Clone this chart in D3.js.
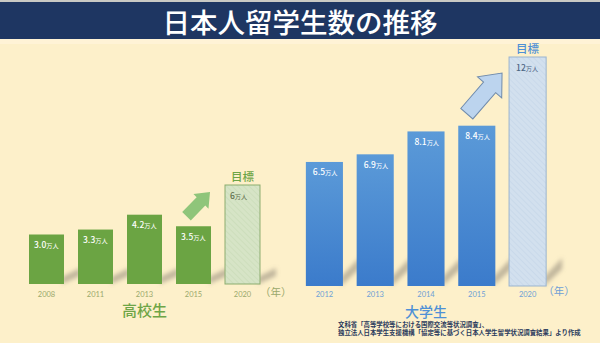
<!DOCTYPE html>
<html><head><meta charset="utf-8">
<script src="https://cdn.jsdelivr.net/npm/d3@7/dist/d3.min.js"></script>
<style>
html,body{margin:0;padding:0;background:#fdf0ca;}
svg{display:block;}
</style></head>
<body>
<svg id="c" width="600" height="343"></svg>
<script>
// ---- data ----
const titleText = "日本人留学生数の推移";
const hsYears = ["2008","2011","2013","2015","2020"];
const hsValues = [3.0, 3.3, 4.2, 3.5, 6];
const hsLabels = ["3.0","3.3","4.2","3.5","6"];
const uniYears = ["2012","2013","2014","2015","2020"];
const uniValues = [6.5, 6.9, 8.1, 8.4, 12];
const uniLabels = ["6.5","6.9","8.1","8.4","12"];
const targetYear = "2020";
const unitText = "万人";
const hsTitle = "高校生";
const uniTitle = "大学生";
const targetText = "目標";
const yearUnit = "（年）";
const sourceLines = ["文科省「高等学校等における国際交流等状況調査」、",
                     "独立法人日本学生支援機構「協定等に基づく日本人学生留学状況調査結果」より作成"];

const svg = d3.select("#c");
const W = 600, H = 343;
const defs = svg.append("defs");

// background
svg.append("rect").attr("width",W).attr("height",H).attr("fill","#fdf0ca");
svg.append("rect").attr("width",W).attr("height",2).attr("fill","#c9c9c4");
svg.append("rect").attr("y",2).attr("width",W).attr("height",37).attr("fill","#1e3662");
svg.append("rect").attr("y",39).attr("width",W).attr("height",5).attr("fill","#fff3d6");
svg.append("text").attr("x",300).attr("y",33).attr("text-anchor","middle")
  .attr("fill","#ffffff").attr("font-family","'Noto Sans CJK JP'").attr("font-weight",500)
  .attr("font-size",27.5).text(titleText);

// filters & patterns
const blur = defs.append("filter").attr("id","blur").attr("x","-50%").attr("y","-50%").attr("width","200%").attr("height","200%");
blur.append("feGaussianBlur").attr("stdDeviation",2.2);

function hatch(id, bg, line){
  const p = defs.append("pattern").attr("id",id).attr("patternUnits","userSpaceOnUse")
    .attr("width",4).attr("height",4).attr("patternTransform","rotate(-45)");
  p.append("rect").attr("width",4).attr("height",4).attr("fill",bg);
  p.append("line").attr("x1",0).attr("y1",0).attr("x2",0).attr("y2",4).attr("stroke",line).attr("stroke-width",1);
}
hatch("hatchG","#d6e4c6","#c5d8b2");
hatch("hatchB","#d2e0ee","#c1d3e6");

const gBlue = defs.append("linearGradient").attr("id","gradB").attr("x1",0).attr("y1",0).attr("x2",0).attr("y2",1);
gBlue.append("stop").attr("offset","0%").attr("stop-color","#5b9ad8");
gBlue.append("stop").attr("offset","100%").attr("stop-color","#3b7bcb");

function arrow(g, tail, tip, shaftW, headW, headL, fill, stroke){
  const dx = tip[0]-tail[0], dy = tip[1]-tail[1];
  const L = Math.hypot(dx,dy), ang = Math.atan2(dy,dx)*180/Math.PI;
  const sL = L - headL;
  const pts = [[0,-shaftW/2],[sL,-shaftW/2],[sL,-headW/2],[L,0],[sL,headW/2],[sL,shaftW/2],[0,shaftW/2]];
  g.append("polygon").attr("points", pts.map(p=>p.join(",")).join(" "))
    .attr("transform",`translate(${tail[0]},${tail[1]}) rotate(${ang})`)
    .attr("fill",fill).attr("stroke",stroke).attr("stroke-width",stroke==="none"?0:1);
}

function panel(cfg){
  const g = svg.append("g");
  const x = d3.scaleBand().domain(cfg.years).range(cfg.xr).paddingInner(cfg.pad).paddingOuter(cfg.pad/2);
  const y = d3.scaleLinear().domain([0, cfg.ymax]).range(cfg.yr);
  const base = y(0), bw = x.bandwidth();
  const data = cfg.years.map((yr,i)=>({yr, v:cfg.values[i], lab:cfg.labels[i]}));

  // shadows
  g.append("g").attr("filter","url(#blur)").selectAll("polygon").data(data).join("polygon")
    .attr("points", d=>{
      const x1 = x(d.yr)+bw;
      const s = cfg.shadow;
      return [[x1-2,base],[x1-2,base-s[0]],[x1+s[1],base-s[2]],[x1+s[1],base-s[3]]].map(p=>p.join(",")).join(" ");
    })
    .attr("fill","#8f8778").attr("opacity",0.55);

  // bars
  g.selectAll("rect.bar").data(data).join("rect").attr("class","bar")
    .attr("x",d=>x(d.yr)).attr("width",bw)
    .attr("y",d=>y(d.v)).attr("height",d=>base-y(d.v))
    .attr("fill",d=>d.yr===targetYear?cfg.targetFill:cfg.fill)
    .attr("stroke",d=>d.yr===targetYear?cfg.targetStroke:"none")
    .attr("stroke-width",1);

  // value labels
  const vl = g.selectAll("text.val").data(data).join("text").attr("class","val")
    .attr("x",d=>x(d.yr)+cfg.labDx).attr("y",d=>y(d.v)+13.5)
    .attr("font-family","'Noto Sans CJK JP'")
    .attr("fill",d=>d.yr===targetYear?cfg.targetText:"#ffffff");
  vl.append("tspan").attr("font-size",8.5).attr("font-weight",500).text(d=>d.lab);
  vl.append("tspan").attr("font-size",6.2).text(unitText);

  // target label
  const tx = x(targetYear)+bw/2;
  g.append("text").attr("x",tx).attr("y",y(cfg.values[cfg.values.length-1])-4)
    .attr("text-anchor","middle").attr("font-family","'Noto Sans CJK JP'").attr("font-weight",500)
    .attr("font-size",11.5).attr("fill",cfg.titleColor).text(targetText);

  // axis
  const ax = g.append("g").attr("transform",`translate(0,${base})`)
    .call(d3.axisBottom(x).tickSize(0).tickPadding(cfg.tickPad));
  ax.select(".domain").remove();
  ax.selectAll("text").attr("font-family","Lato, 'Noto Sans'").attr("font-size",7.5).attr("fill",cfg.yearColor);

  // year unit
  g.append("text").attr("x",x(targetYear)+bw+cfg.yuDx).attr("y",base+cfg.yuDy)
    .attr("font-family","'Noto Sans CJK JP'").attr("font-size",10.5).attr("fill",cfg.yearColor).text(yearUnit);

  // panel title
  g.append("text").attr("x",(x(cfg.years[0])+x(targetYear)+bw)/2).attr("y",base+cfg.titleDy)
    .attr("text-anchor","middle").attr("font-family","'Noto Sans CJK JP'").attr("font-weight",500)
    .attr("font-size",cfg.titleSize).attr("fill",cfg.titleColor).text(cfg.title);

  // arrow
  const prev = cfg.years[cfg.years.length-2];
  const tail = [x(prev)+bw*cfg.arrow.tailFx, y(cfg.values[cfg.values.length-2])-cfg.arrow.tailDy];
  const tip = [x(targetYear)-cfg.arrow.tipDx, y(cfg.values[cfg.values.length-1])+cfg.arrow.tipDy];
  arrow(g, tail, tip, cfg.arrow.sw, cfg.arrow.hw, cfg.arrow.hl, cfg.arrow.fill, cfg.arrow.stroke);
}

panel({
  years: hsYears, values: hsValues, labels: hsLabels, ymax: 6,
  xr: [22, 267], pad: 0.286, yr: [284, 185],
  fill: "#6ba443", targetFill: "url(#hatchG)", targetStroke: "#8cad6f", targetText: "#5d6f4c",
  labDx: 5, yearColor: "#9aa86a", titleColor: "#6ea546", title: hsTitle, titleSize: 15,
  tickPad: 8, titleDy: 31.5, yuDx: 0, yuDy: 12,
  shadow: [7, 16, 16, 8],
  arrow: {tailFx: 0.3, tailDy: 10, tipDx: 15, tipDy: 7, sw: 12, hw: 21, hl: 13, fill: "#8fc57a", stroke: "none"}
});

panel({
  years: uniYears, values: uniValues, labels: uniLabels, ymax: 12,
  xr: [299, 553], pad: 0.27, yr: [286, 57],
  fill: "url(#gradB)", targetFill: "url(#hatchB)", targetStroke: "#9ab4cf", targetText: "#4d6685",
  labDx: 7, yearColor: "#6d9fd6", titleColor: "#4f90d6", title: uniTitle, titleSize: 14,
  tickPad: 6, titleDy: 31, yuDx: -3, yuDy: 9,
  shadow: [9, 16, 28, 17],
  arrow: {tailFx: 0.23, tailDy: 12, tipDx: 7, tipDy: 16, sw: 16, hw: 32, hl: 19, fill: "#bcd4ee", stroke: "#6f8bad"}
});

// source
const src = svg.append("text").attr("font-family","'Noto Sans CJK JP'").attr("font-size",6.4)
  .attr("font-weight",700).attr("fill","#2a3a5c");
sourceLines.forEach((t,i)=>src.append("tspan").attr("x",338).attr("y",326.5+i*8).text(t));
</script>
</body></html>
